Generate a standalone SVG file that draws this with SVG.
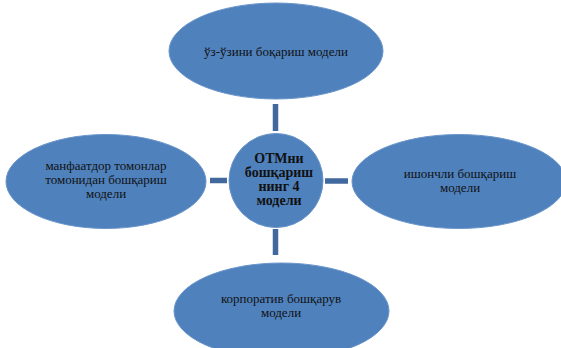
<svg xmlns="http://www.w3.org/2000/svg" width="561" height="348" viewBox="0 0 561 348">
<style>
.n{fill:#4F81BD;stroke:#6A95CA;stroke-width:1}
.t{font-family:"Liberation Serif","DejaVu Serif",serif;font-size:13px;fill:#111;text-anchor:middle}
.b{font-weight:bold;font-size:14px}
.c{stroke:#41699E;stroke-width:5.5;fill:none}
</style>
<rect width="561" height="348" fill="#fff"/>
<g id="connectors">
<line class="c" x1="275.5" y1="104" x2="275.5" y2="131"/>
<line class="c" x1="210" y1="180.5" x2="227" y2="180.5"/>
<line class="c" x1="325" y1="181" x2="348" y2="181"/>
<line class="c" x1="275.5" y1="229" x2="275.5" y2="255"/>
</g>
<g id="top">
<ellipse class="n" cx="276" cy="51" rx="107" ry="48"/>
<text class="t" x="276" y="56">ўз-ўзини боқариш модели</text>
</g>
<g id="left">
<ellipse class="n" cx="106" cy="181.5" rx="100" ry="47"/>
<text class="t" x="106" y="170">манфаатдор томонлар</text>
<text class="t" x="106" y="184">томонидан бошқариш</text>
<text class="t" x="106" y="198">модели</text>
</g>
<g id="right">
<ellipse class="n" cx="459" cy="181.5" rx="107" ry="47"/>
<text class="t" x="460" y="178">ишончли бошқариш</text>
<text class="t" x="460" y="192">модели</text>
</g>
<g id="bottom">
<ellipse class="n" cx="281.5" cy="311" rx="107.5" ry="48"/>
<text class="t" x="281" y="303">корпоратив бошқарув</text>
<text class="t" x="281" y="317">модели</text>
</g>
<g id="center">
<circle class="n" cx="276" cy="180.5" r="47"/>
<text class="t b" x="279" y="163">ОТМни</text>
<text class="t b" x="279" y="177">бошқариш</text>
<text class="t b" x="279" y="191">нинг 4</text>
<text class="t b" x="279" y="205">модели</text>
</g>
</svg>
